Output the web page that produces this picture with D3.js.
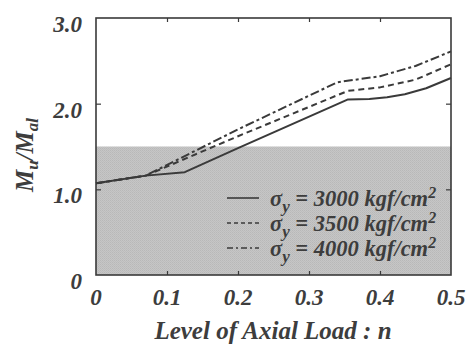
<!DOCTYPE html>
<html>
<head>
<meta charset="utf-8">
<script src="https://cdn.jsdelivr.net/npm/d3@7"></script>
<style>
  body { margin: 0; background: #fff; }
  text { font-family: "Liberation Serif", "DejaVu Serif", serif; font-weight: bold; font-style: italic; fill: #3d3d3d; }
</style>
</head>
<body>
<div id="chart"></div>
<script>
"use strict";

// data
var xTicks = [0, 0.1, 0.2, 0.3, 0.4, 0.5];
var yTicks = [0, 1.0, 2.0, 3.0];
var shadeTop = 1.5;

var n3000 = [0, 0.07, 0.125, 0.2, 0.355, 0.385, 0.41, 0.435, 0.465, 0.5];
var m3000 = [1.07, 1.16, 1.20, 1.48, 2.05, 2.055, 2.075, 2.11, 2.18, 2.30];
var n3500 = [0, 0.07, 0.2, 0.355, 0.40, 0.45, 0.5];
var m3500 = [1.07, 1.16, 1.62, 2.15, 2.19, 2.28, 2.46];
var n4000 = [0, 0.07, 0.2, 0.34, 0.40, 0.45, 0.5];
var m4000 = [1.07, 1.16, 1.70, 2.25, 2.32, 2.44, 2.61];
var legendValues = ["3000", "3500", "4000"];

var width = 469, height = 344;
var x = d3.scaleLinear().domain([0, 0.5]).range([96, 451]);
var y = d3.scaleLinear().domain([0, 3]).range([275, 18]);
var ink = "#3a3a3a";

var svg = d3.select("#chart").append("svg")
    .attr("width", width)
    .attr("height", height);

// grainy grey fill for the lower band
var pat = svg.append("defs").append("pattern")
    .attr("id", "grain")
    .attr("width", 2).attr("height", 2)
    .attr("patternUnits", "userSpaceOnUse");
pat.append("rect").attr("width", 2).attr("height", 2).attr("fill", "#c6c6c6");
pat.append("rect").attr("width", 1).attr("height", 1).attr("fill", "#b8b8b8");
pat.append("rect").attr("x", 1).attr("y", 1).attr("width", 1).attr("height", 1).attr("fill", "#bdbdbd");

svg.append("rect")
    .attr("x", x(0))
    .attr("y", y(shadeTop))
    .attr("width", x(0.5) - x(0))
    .attr("height", y(0) - y(shadeTop))
    .attr("fill", "url(#grain)");

// frame with inward ticks
function axisGroup(axis, tx, ty) {
    var g = svg.append("g")
        .attr("transform", "translate(" + tx + "," + ty + ")")
        .call(axis);
    g.select(".domain").remove();
    g.selectAll("text").remove();
    g.selectAll("line").attr("stroke", ink).attr("stroke-width", 1.2);
    return g;
}
var inner = xTicks.slice(1, -1);
var innerY = yTicks.slice(1, -1);
axisGroup(d3.axisBottom(x).tickValues(inner).tickSize(-4), 0, y(0));
axisGroup(d3.axisTop(x).tickValues(inner).tickSize(-4), 0, y(3));
axisGroup(d3.axisLeft(y).tickValues(innerY).tickSize(-5), x(0), 0);
axisGroup(d3.axisRight(y).tickValues(innerY).tickSize(-5), x(0.5), 0);

svg.append("rect")
    .attr("x", x(0))
    .attr("y", y(3))
    .attr("width", x(0.5) - x(0))
    .attr("height", y(0) - y(3))
    .attr("fill", "none")
    .attr("stroke", ink)
    .attr("stroke-width", 1.6);

// tick labels
svg.append("g").selectAll("text")
    .data(xTicks)
    .enter()
    .append("text")
    .attr("x", function(d) { return x(d); })
    .attr("y", 305)
    .attr("text-anchor", "middle")
    .attr("font-size", 23)
    .text(function(d) { return d === 0 ? "0" : d3.format(".1f")(d); });

svg.append("g").selectAll("text")
    .data(yTicks)
    .enter()
    .append("text")
    .attr("x", 82)
    .attr("y", function(d) { return y(d) + 14; })
    .attr("text-anchor", "end")
    .attr("font-size", 23)
    .text(function(d) { return d === 0 ? "0" : d3.format(".1f")(d); });

// axis titles
svg.append("text")
    .attr("x", 273)
    .attr("y", 339)
    .attr("text-anchor", "middle")
    .attr("font-size", 25)
    .text("Level of Axial Load : n");

var yt = svg.append("text")
    .attr("transform", "translate(33,155) rotate(-90)")
    .attr("text-anchor", "middle")
    .attr("font-size", 25);
yt.append("tspan").text("M");
yt.append("tspan").attr("dy", 5).attr("font-size", 17).text("u");
yt.append("tspan").attr("dy", -5).text("/M");
yt.append("tspan").attr("dy", 5).attr("font-size", 17).text("al");

// curves
var series = [
    { n: n3000, m: m3000, dash: null },
    { n: n3500, m: m3500, dash: "6,4" },
    { n: n4000, m: m4000, dash: "9,3,3,3" }
];
var line = d3.line()
    .x(function(d) { return x(d[0]); })
    .y(function(d) { return y(d[1]); });

svg.append("g").selectAll("path")
    .data(series)
    .enter()
    .append("path")
    .attr("d", function(s) { return line(d3.zip(s.n, s.m)); })
    .attr("fill", "none")
    .attr("stroke", ink)
    .attr("stroke-width", 2)
    .attr("stroke-linejoin", "round")
    .attr("stroke-dasharray", function(s) { return s.dash; });

// legend
var leg = svg.append("g").selectAll("g")
    .data(series)
    .enter()
    .append("g")
    .attr("transform", function(d, i) { return "translate(0," + (198 + i * 25) + ")"; });

leg.append("line")
    .attr("x1", 227).attr("x2", 259)
    .attr("stroke", ink)
    .attr("stroke-width", 1.6)
    .attr("stroke-dasharray", function(s) { return s.dash ? "4,3" : null; })
    .filter(function(d, i) { return i === 2; })
    .attr("stroke-dasharray", "6,3,2,3");

var lt = leg.append("text")
    .attr("x", 270)
    .attr("y", 8)
    .attr("font-size", 22.5);
lt.append("tspan").text("σ");
lt.append("tspan").attr("dy", 6).attr("font-size", 17).text("y");
lt.append("tspan").attr("dy", -6).text(function(d, i) { return " = " + legendValues[i] + " kgf/cm"; });
lt.append("tspan").attr("dy", -8).attr("font-size", 16).text("2");
</script>
</body>
</html>
